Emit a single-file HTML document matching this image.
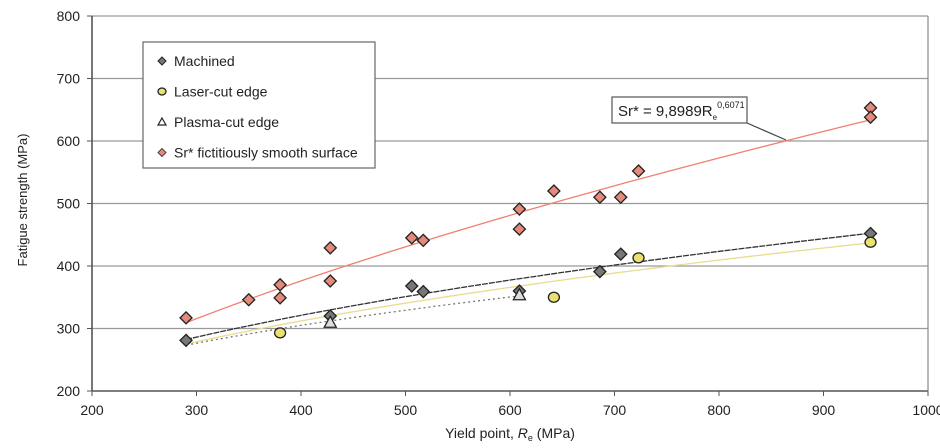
<!DOCTYPE html>
<html><head><meta charset="utf-8"><style>
body{margin:0;background:#fff;}
svg{display:block;font-family:"Liberation Sans",sans-serif;}
</style></head><body>
<svg id="chart" width="940" height="448"></svg>
<script>
const xTicks=[200,300,400,500,600,700,800,900,1000];
const yTicks=[200,300,400,500,600,700,800];
const srX=[290,350,380,380,428,428,506,517,609,609,642,686,706,723,945,945];
const srY=[317,346,370,349,429,376,445,441,491,459,520,510,510,552,653,638];
const machX=[290,428,506,517,609,686,706,945];
const machY=[281,320,368,359,360,391,419,452];
const laserX=[380,642,723,945];
const laserY=[293,350,413,438];
const plasmaX=[428,609];
const plasmaY=[310,354];
const srFit=[9.8989,0.6071];
const machFit=[29.4,0.399];
const laserFit=[29.8,0.392];
const plasmaFit=[39.3,0.342];

const NS="http://www.w3.org/2000/svg";
const svg=document.getElementById('chart');
const X0=92,X1=928,Y0=391,Y1=16;
const xs=v=>X0+(v-200)/800*(X1-X0);
const ys=v=>Y0-(v-200)/600*(Y0-Y1);
function mk(t,a,p){const e=document.createElementNS(NS,t);for(const k in a)e.setAttribute(k,a[k]);(p||svg).appendChild(e);return e;}

yTicks.forEach(v=>{
  const g=mk('line',{x1:X0,x2:X1,y1:ys(v),y2:ys(v),stroke:v===200?'#555':'#999','stroke-width':v===200?1.6:1.2});
  
  
  mk('line',{x1:X0-5,x2:X0,y1:ys(v),y2:ys(v),stroke:'#555'});
  const t=mk('text',{x:X0-12,y:ys(v)+5,'text-anchor':'end','font-size':14,fill:'#222'});
  t.textContent=v;
  
  
});
xTicks.forEach(v=>{
  mk('line',{x1:xs(v),x2:xs(v),y1:Y0,y2:Y0+5,stroke:'#555'});
  const t=mk('text',{x:xs(v),y:Y0+24,'text-anchor':'middle','font-size':14,fill:'#222'});
  t.textContent=v;
  
  
});
mk('line',{x1:X0,x2:X0,y1:Y1,y2:Y0,stroke:'#555','stroke-width':1.6});
mk('line',{x1:X1,x2:X1,y1:Y1,y2:Y0,stroke:'#888','stroke-width':1.2});

function drawFit(f,from,to,col,dash,name){let d='';for(let i=0;i<=40;i++){const v=from+(to-from)*i/40;d+=(i?'L':'M')+xs(v).toFixed(1)+','+ys(f[0]*Math.pow(v,f[1])).toFixed(1);}
 const p=mk('path',{d:d,fill:'none',stroke:col,'stroke-width':1.3,'stroke-dasharray':dash||'none'});
 
 }
drawFit(laserFit,290,945,'#e8dc90','','laser-trendline');
drawFit(plasmaFit,295,610,'#777','2,3','plasma-trendline');
drawFit(machFit,290,945,'#333','6,1','machined-trendline');
drawFit(srFit,290,945,'#f08070','','sr-trendline');

function diamond(x,y,fill,name){const p=mk('path',{d:`M${x},${y-6}L${x+6},${y}L${x},${y+6}L${x-6},${y}Z`,fill:fill,stroke:'#222','stroke-width':1.3});
 
 }
srX.forEach((v,i)=>diamond(xs(v),ys(srY[i]),'#e58a7a','sr-point'));
machX.forEach((v,i)=>diamond(xs(v),ys(machY[i]),'#777','machined-point'));
laserX.forEach((v,i)=>{const c=mk('ellipse',{cx:xs(v),cy:ys(laserY[i]),rx:5.5,ry:5,fill:'#ece070',stroke:'#222','stroke-width':1.3});
 
 });
plasmaX.forEach((v,i)=>{const x=xs(v),y=ys(plasmaY[i]);const p=mk('path',{d:`M${x},${y-6}L${x+6},${y+5}L${x-6},${y+5}Z`,fill:'#ddd',stroke:'#222','stroke-width':1.3});
 
 });

const lg=mk('g',{});


mk('rect',{x:143,y:42,width:232,height:126,fill:'#fff',stroke:'#666','stroke-width':1.2},lg);
const labels=['Machined','Laser-cut edge','Plasma-cut edge','Sr* fictitiously smooth surface'];
labels.forEach((s,i)=>{const y=61+i*30.5;const x=162;
 if(i===0)mk('path',{d:`M${x},${y-4}L${x+4},${y}L${x},${y+4}L${x-4},${y}Z`,fill:'#777',stroke:'#222'},lg);
 if(i===1)mk('ellipse',{cx:x,cy:y,rx:4,ry:3.5,fill:'#ece070',stroke:'#222','stroke-width':1.3},lg);
 if(i===2)mk('path',{d:`M${x},${y-4}L${x+4},${y+3}L${x-4},${y+3}Z`,fill:'#fff',stroke:'#222','stroke-width':1.2},lg);
 if(i===3)mk('path',{d:`M${x},${y-4}L${x+4},${y}L${x},${y+4}L${x-4},${y}Z`,fill:'#e58a7a',stroke:'#444'},lg);
 const t=mk('text',{x:174,y:y+5,'font-size':14,fill:'#222'},lg);t.textContent=s;
 
 });

mk('line',{x1:747,y1:123,x2:786,y2:140,stroke:'#444','stroke-width':1.2});
mk('rect',{x:612,y:97,width:135,height:26,fill:'#fff',stroke:'#555','stroke-width':1.2});
const eq=mk('text',{x:618,y:116,'font-size':15,fill:'#222'});
eq.innerHTML='Sr* = 9,8989R<tspan font-size="8" dy="4">e</tspan><tspan font-size="9" dy="-12">0,6071</tspan>';



const yt=mk('text',{x:0,y:0,'font-size':13,fill:'#222','text-anchor':'middle',transform:'translate(27,200) rotate(-90)'});
yt.textContent='Fatigue strength (MPa)';


const xt=mk('text',{x:510,y:438,'font-size':14,fill:'#222','text-anchor':'middle'});
xt.innerHTML='Yield point, <tspan font-style="italic">R</tspan><tspan font-size="9" dy="3">e</tspan><tspan dy="-3"> (MPa)</tspan>';


</script>
</body></html>
